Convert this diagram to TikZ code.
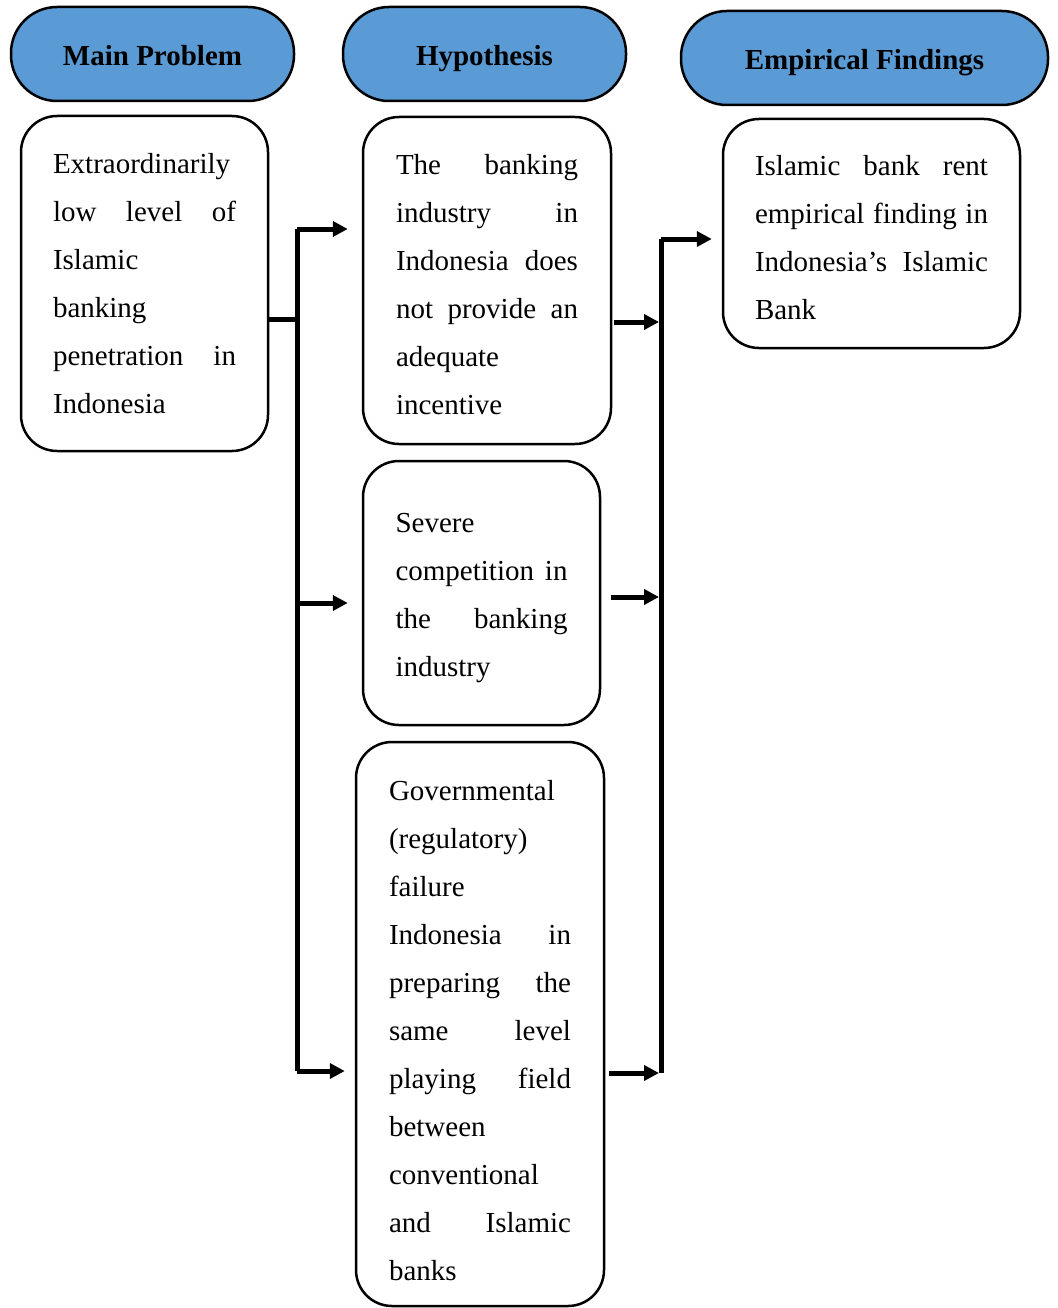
\documentclass[tikz,border=0pt]{standalone}
\usepackage{fontspec}
\setmainfont{Liberation Serif}
\usetikzlibrary{arrows.meta}
\definecolor{headblue}{HTML}{5B9BD5}

\begin{document}
\begin{tikzpicture}[x=1pt, y=-1pt,
    every node/.style={font=\fontsize{29}{48}\selectfont},
    head/.style={draw, line width=2.5pt, fill=headblue, rounded corners=46pt, minimum height=94pt, text height=25pt, text depth=2pt, font=\fontsize{29}{48}\selectfont\bfseries},
    txtbox/.style={draw, line width=2.5pt, rounded corners=36pt, align=justify, inner sep=0pt},
    bus/.style={line width=5pt},
    arr/.style={line width=5pt, -{Triangle[length=15pt,width=15pt]}}]

\useasboundingbox (0,0) rectangle (1057,1308);

\node[head, minimum width=283pt] (hmain) at (152.5,54) {Main Problem};
\node[head, minimum width=283pt] (hhyp) at (484.5,54) {Hypothesis};
\node[head, minimum width=367pt] (hfind) at (864.5,58) {Empirical Findings};

\node[txtbox, minimum width=247pt, minimum height=335pt, text width=183pt] (mainprob) at (144.5,283.5)
    {Extraordinarily\linebreak low level of\linebreak Islamic\linebreak banking\linebreak penetration in\linebreak Indonesia};
\node[txtbox, minimum width=248pt, minimum height=327pt, text width=182pt] (hyp1) at (487,280.5)
    {\rule{0pt}{28pt}The banking\linebreak industry in\linebreak Indonesia does\linebreak not provide an\linebreak adequate\linebreak incentive};
\node[txtbox, minimum width=237pt, minimum height=264pt, text width=172pt] (hyp2) at (481.5,593)
    {\rule{0pt}{29pt}Severe\linebreak competition in\linebreak the banking\linebreak industry};
\node[txtbox, minimum width=248pt, minimum height=564pt, text width=182pt] (hyp3) at (480,1024)
    {\rule{0pt}{34pt}Governmental\linebreak (regulatory)\linebreak failure\linebreak Indonesia in\linebreak preparing the\linebreak same level\linebreak playing field\linebreak between\linebreak conventional\linebreak and Islamic\linebreak banks};
\node[txtbox, minimum width=297pt, minimum height=229pt, text width=233pt] (finding) at (871.5,233.5)
    {\rule{0pt}{28pt}Islamic bank rent\linebreak empirical finding in\linebreak Indonesia’s Islamic\linebreak Bank};

\coordinate (lsplit) at (297,319);
\coordinate (ltop) at (297,229);
\coordinate (lmid) at (297,603);
\coordinate (lbot) at (297,1071);
\coordinate (rtop) at (661,239);
\coordinate (r1) at (659,322);
\coordinate (r2) at (659,597);
\coordinate (r3) at (659,1073);
\coordinate (rbot) at (661,1073);

\draw[bus] (mainprob.east |- lsplit) -- (lsplit);
\draw[bus] (ltop) -- (lbot);
\draw[arr, shorten >=14pt] (ltop) -- (hyp1.west |- ltop);
\draw[arr, shorten >=14pt] (lmid) -- (hyp2.west |- lmid);
\draw[arr, shorten >=10pt] (lbot) -- (hyp3.west |- lbot);

\draw[arr, shorten <=2pt] (hyp1.east |- r1) -- (r1);
\draw[arr, shorten <=10pt] (hyp2.east |- r2) -- (r2);
\draw[arr, shorten <=4pt] (hyp3.east |- r3) -- (r3);
\draw[bus] (rtop) -- (rbot);
\draw[arr, shorten >=10pt] (rtop) -- (finding.west |- rtop);
\end{tikzpicture}
\end{document}
